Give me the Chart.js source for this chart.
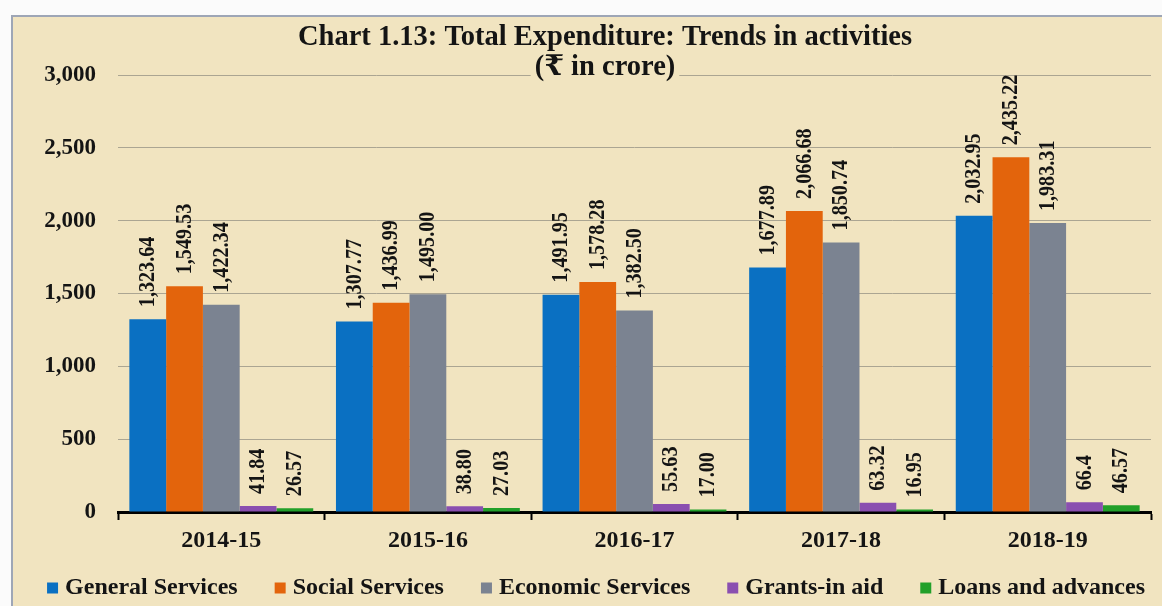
<!DOCTYPE html>
<html>
<head>
<meta charset="utf-8">
<script src="https://cdn.jsdelivr.net/npm/chart.js@4.4.1/dist/chart.umd.min.js"></script>
<style>
  html, body { margin: 0; padding: 0; background: #fbfbfb; overflow: hidden; }
  #panel {
    position: absolute; left: 11px; top: 15px; width: 1160px; height: 600px;
    background: #f1e4c0; border-left: 2px solid #9ea6b6; border-top: 2px solid #9ea6b6;
  }
  #wrap { position: absolute; left: 0; top: 0; width: 1162px; height: 606px; }
</style>
</head>
<body>
<div id="panel"></div>
<div id="wrap"><canvas id="chart" width="1162" height="606"></canvas></div>
<script>
/* ---------- data ---------- */
const years = ['2014-15', '2015-16', '2016-17', '2017-18', '2018-19'];
const seriesNames = ['General Services', 'Social Services', 'Economic Services', 'Grants-in aid', 'Loans and advances'];
const generalServices  = [1323.64, 1307.77, 1491.95, 1677.89, 2032.95];
const socialServices   = [1549.53, 1436.99, 1578.28, 2066.68, 2435.22];
const economicServices = [1422.34, 1495.00, 1382.50, 1850.74, 1983.31];
const grantsInAid      = [41.84, 38.80, 55.63, 63.32, 66.4];
const loansAdvances    = [26.57, 27.03, 17.00, 16.95, 46.57];
// decimals shown in the labels (the last grant value is printed as 66.4)
const grantsDecimals   = [2, 2, 2, 2, 1];
const titleLines = ['Chart 1.13: Total Expenditure: Trends in activities', '(\u20B9 in crore)'];

const seriesColors = ['#0a70c2', '#e3640c', '#7b8391', '#8a4fb0', '#22a02a'];
const SERIF = "'Liberation Serif', 'Times New Roman', 'DejaVu Serif', serif";
const INK = '#141414';
const BG = '#f1e4c0';

function fmt(v, d) {
    return v.toLocaleString('en-US', { minimumFractionDigits: d, maximumFractionDigits: d });
}

/* ---------- plugins ---------- */
// vertical value labels above each bar
const barLabels = {
    id: 'barLabels',
    afterDatasetsDraw(chart) {
        const ctx = chart.ctx;
        ctx.save();
        ctx.font = 'bold 24px ' + SERIF;
        ctx.fillStyle = INK;
        ctx.textAlign = 'left';
        ctx.textBaseline = 'middle';
        chart.data.datasets.forEach((ds, i) => {
            chart.getDatasetMeta(i).data.forEach((bar, j) => {
                const d = ds.decimals ? ds.decimals[j] : 2;
                ctx.save();
                ctx.translate(bar.x, bar.y - 12);
                ctx.rotate(-Math.PI / 2);
                ctx.scale(0.84, 1);
                ctx.fillText(fmt(ds.data[j], d), 0, 0);
                ctx.restore();
            });
        });
        ctx.restore();
    }
};

// two-line title, second line sits on the top gridline with a background box
const titleBlock = {
    id: 'titleBlock',
    afterDraw(chart) {
        const ctx = chart.ctx;
        const cx = 605;
        ctx.save();
        ctx.font = 'bold 28.5px ' + SERIF;
        ctx.textAlign = 'center';
        ctx.textBaseline = 'alphabetic';
        ctx.fillStyle = INK;
        ctx.fillText(titleLines[0], cx, 45);
        const w = ctx.measureText(titleLines[1]).width;
        ctx.fillStyle = BG;
        ctx.fillRect(cx - w / 2 - 4, 54, w + 8, 28);
        ctx.fillStyle = INK;
        ctx.fillText(titleLines[1], cx, 75);
        ctx.restore();
    }
};

/* ---------- chart ---------- */
const seriesData = [generalServices, socialServices, economicServices, grantsInAid, loansAdvances];

new Chart(document.getElementById('chart'), {
    type: 'bar',
    data: {
        labels: years,
        datasets: seriesNames.map((name, i) => ({
            label: name,
            data: seriesData[i],
            backgroundColor: seriesColors[i],
            borderWidth: 0,
            categoryPercentage: 0.89,
            barPercentage: 1.0,
            decimals: i === 3 ? grantsDecimals : null
        }))
    },
    options: {
        responsive: false,
        animation: false,
        layout: { padding: { top: 75, left: 0, right: 11, bottom: -4 } },
        scales: {
            x: {
                grid: {
                    display: true, drawOnChartArea: false, drawTicks: true,
                    tickLength: 8, tickWidth: 2, tickColor: '#000', offset: true
                },
                border: { display: true, color: '#000', width: 3 },
                ticks: { color: INK, font: { family: SERIF, size: 24, weight: 'bold' }, padding: 6 },
                afterFit(s) { s.height = 58; }
            },
            y: {
                min: 0, max: 3000,
                ticks: {
                    stepSize: 500, color: INK, padding: 22,
                    font: { family: SERIF, size: 23, weight: 'bold' },
                    callback: v => v.toLocaleString('en-US')
                },
                grid: { color: '#aba592', lineWidth: 1, drawTicks: false },
                border: { display: false },
                afterFit(s) { s.width = 118; }
            }
        },
        plugins: {
            legend: {
                position: 'bottom',
                align: 'end',
                labels: {
                    color: INK, usePointStyle: true, pointStyle: 'rect',
                    boxWidth: 1, boxHeight: 11, padding: 6,
                    font: { family: SERIF, size: 24, weight: 'bold' },
                    // wider gaps between the legend entries
                    generateLabels(chart) {
                        const items = Chart.defaults.plugins.legend.labels.generateLabels(chart);
                        items.forEach((it, i) => { if (i < items.length - 1) it.text += '      '; });
                        return items;
                    }
                }
            },
            title: { display: false },
            tooltip: { enabled: false }
        }
    },
    plugins: [barLabels, titleBlock]
});
</script>
</body>
</html>
